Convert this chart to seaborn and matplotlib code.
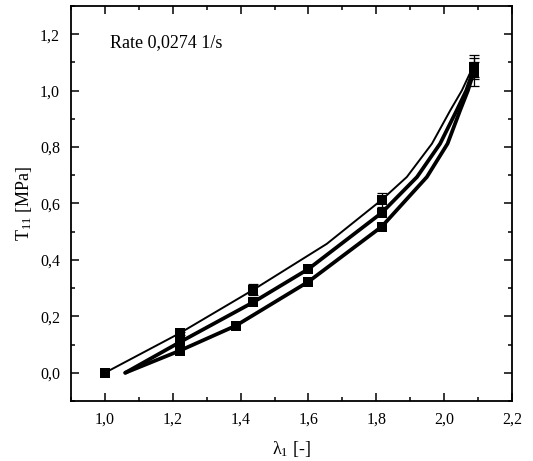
import numpy as np
import pandas as pd
import matplotlib
matplotlib.use("Agg")
import matplotlib.pyplot as plt
from matplotlib.ticker import FixedLocator, MultipleLocator
import seaborn as sns

# ---- data ----
# measured points (squares with error bars)
pts_a_x = [1.00, 1.22, 1.437, 1.816, 2.087]
pts_a_y = [0.000, 0.140, 0.294, 0.613, 1.085]
pts_a_err = [0.0, 0.006, 0.020, 0.024, 0.043]

pts_b_x = [1.22, 1.437, 1.60, 1.816, 2.087]
pts_b_y = [0.108, 0.250, 0.368, 0.567, 1.075]
pts_b_err = [0.0, 0.0, 0.0, 0.0, 0.025]

pts_c_x = [1.22, 1.386, 1.60, 1.816, 2.087]
pts_c_y = [0.078, 0.167, 0.323, 0.518, 1.065]
pts_c_err = [0.0, 0.0, 0.0, 0.0, 0.050]

# fitted curves
curve_a_x = [1.00, 1.22, 1.437, 1.654, 1.816, 1.89, 1.964, 2.018, 2.052, 2.087]
curve_a_y = [0.000, 0.140, 0.294, 0.457, 0.613, 0.694, 0.812, 0.930, 1.000, 1.090]

curve_b_x = [1.06, 1.22, 1.437, 1.60, 1.816, 1.92, 1.988, 2.037, 2.065, 2.087]
curve_b_y = [0.000, 0.108, 0.250, 0.368, 0.567, 0.694, 0.812, 0.930, 1.000, 1.075]

curve_c_x = [1.06, 1.22, 1.386, 1.60, 1.816, 1.949, 2.010, 2.047, 2.070, 2.087]
curve_c_y = [0.000, 0.078, 0.167, 0.323, 0.518, 0.694, 0.812, 0.930, 1.000, 1.065]

x_ticks = [1.0, 1.2, 1.4, 1.6, 1.8, 2.0, 2.2]
x_tick_labels = ["1,0", "1,2", "1,4", "1,6", "1,8", "2,0", "2,2"]
y_ticks = [0.0, 0.2, 0.4, 0.6, 0.8, 1.0, 1.2]
y_tick_labels = ["0,0", "0,2", "0,4", "0,6", "0,8", "1,0", "1,2"]

annotation = "Rate 0,0274 1/s"
x_label = r"$\lambda_{1}$ [-]"
y_label = r"T$_{11}$ [MPa]"

# ---- styling ----
sns.set_theme(style="white")
plt.rcParams["font.family"] = ["Liberation Serif", "DejaVu Serif"]
plt.rcParams["mathtext.fontset"] = "custom"
plt.rcParams["mathtext.rm"] = "Liberation Serif"
plt.rcParams["mathtext.it"] = "Liberation Serif"
plt.rcParams["mathtext.default"] = "rm"

fig = plt.figure(figsize=(5.33, 4.61), dpi=100)
ax = fig.add_axes([71 / 533, 1 - 401 / 461, (512 - 71) / 533, (401 - 6) / 461])

curves = pd.concat([
    pd.DataFrame({"x": curve_a_x, "y": curve_a_y, "s": "a"}),
    pd.DataFrame({"x": curve_b_x, "y": curve_b_y, "s": "b"}),
    pd.DataFrame({"x": curve_c_x, "y": curve_c_y, "s": "c"}),
])
widths = {"a": 1.4, "b": 2.7, "c": 2.7}
for s, d in curves.groupby("s"):
    sns.lineplot(data=d, x="x", y="y", ax=ax, color="black", lw=widths[s],
                 estimator=None, sort=False, legend=False)

for xs, ys, es in [(pts_a_x, pts_a_y, pts_a_err),
                   (pts_b_x, pts_b_y, pts_b_err),
                   (pts_c_x, pts_c_y, pts_c_err)]:
    xs = np.array(xs); ys = np.array(ys); es = np.array(es)
    m = es > 0
    ax.errorbar(xs[m], ys[m], yerr=es[m], fmt="none", ecolor="black",
                elinewidth=0.9, capsize=3.5, capthick=0.9, zorder=3)
    sns.scatterplot(x=xs, y=ys, ax=ax, marker="s", s=48, color="black",
                    edgecolor="black", linewidth=0, zorder=4, legend=False)

ax.set_xlim(0.9, 2.2)
ax.set_ylim(-0.1, 1.3)
ax.xaxis.set_major_locator(FixedLocator(x_ticks))
ax.set_xticklabels(x_tick_labels)
ax.yaxis.set_major_locator(FixedLocator(y_ticks))
ax.set_yticklabels(y_tick_labels)
ax.xaxis.set_minor_locator(MultipleLocator(0.1))
ax.yaxis.set_minor_locator(MultipleLocator(0.1))
ax.tick_params(which="both", direction="in", top=True, right=True,
               bottom=True, left=True, color="black", labelsize=11.5,
               labelcolor="black", pad=8)
ax.tick_params(which="major", length=5.5, width=1.1)
ax.tick_params(which="minor", length=3, width=1.1)
for sp in ax.spines.values():
    sp.set_visible(True)
    sp.set_color("black")
    sp.set_linewidth(1.3)

ax.set_xlabel(x_label, fontsize=13, color="black", labelpad=8)
ax.set_ylabel(y_label, fontsize=13, color="black", labelpad=4)
ax.text(1.015, 1.17, annotation, fontsize=13, color="black",
        ha="left", va="center")

fig.savefig("out.png", dpi=100)
